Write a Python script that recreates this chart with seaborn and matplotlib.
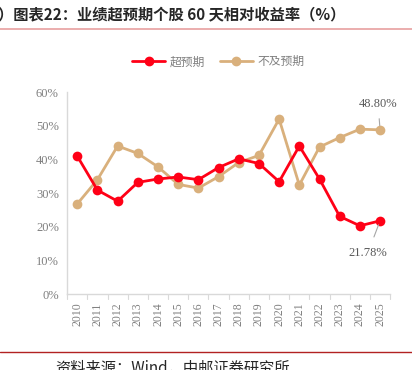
import pandas as pd
import seaborn as sns
import matplotlib.pyplot as plt
from matplotlib.lines import Line2D

years = list(range(2010, 2026))
beat = [41.0, 30.9, 27.6, 33.2, 34.2, 34.8, 34.0, 37.6, 40.2, 38.8,
        33.4, 44.0, 34.2, 23.1, 20.3, 21.78]
miss = [26.8, 34.0, 44.0, 41.8, 37.8, 32.6, 31.5, 34.9, 39.1, 41.2,
        52.0, 32.4, 43.7, 46.5, 49.0, 48.80]
series_names = ["超预期", "不及预期"]
yticks = [0, 10, 20, 30, 40, 50, 60]

df = pd.DataFrame({"year": years * 2,
                   "value": beat + miss,
                   "series": [series_names[0]] * 16 + [series_names[1]] * 16})

sns.set_style("white")
plt.rcParams['font.family'] = ['Noto Sans CJK SC', 'DejaVu Sans']

red = "#FF0016"
tan = "#D9B07C"
grey = "#808080"

fig = plt.figure(figsize=(4.12, 3.70), dpi=100)
ax = fig.add_axes([0.163, 0.205, 0.784, 0.546])

# draw tan first so red sits on top
sns.lineplot(data=df, x="year", y="value", hue="series",
             palette={series_names[0]: red, series_names[1]: tan},
             hue_order=[series_names[1], series_names[0]],
             marker="o", markersize=7, markeredgewidth=0, linewidth=2.0,
             legend=False, ax=ax)

ax.set_xlim(2009.5, 2025.5)
ax.set_ylim(0, 60)
ax.set_xticks(years)
ax.set_xticklabels([str(y) for y in years], rotation=90,
                   family="Liberation Serif", fontsize=8.5, color=grey)
ax.set_yticks(yticks)
ax.set_yticklabels([f"{v}%" for v in yticks],
                   family="Liberation Serif", fontsize=9, color=grey)
ax.set_xlabel("")
ax.set_ylabel("")
ax.tick_params(axis="x", length=0, pad=6)
ax.tick_params(axis="y", length=0, pad=6)
for x in range(2010, 2027):
    ax.plot([x - 0.5, x - 0.5], [0, -1.3], color="#d9d9d9", lw=0.8, clip_on=False)

for s in ["top", "right"]:
    ax.spines[s].set_visible(False)
for s in ["left", "bottom"]:
    ax.spines[s].set_color("#d9d9d9")
    ax.spines[s].set_linewidth(1.0)

# end labels
ax.annotate(f"{miss[-1]:.2f}%", xy=(2025, miss[-1]), xytext=(2024.9, 56.5),
            ha="center", va="center", fontsize=9, color="#595959",
            family="Liberation Serif",
            arrowprops=dict(arrowstyle="-", color="#a6a6a6", lw=0.8, shrinkA=4, shrinkB=3))
ax.annotate(f"{beat[-1]:.2f}%", xy=(2025, beat[-1]), xytext=(2024.4, 12.3),
            ha="center", va="center", fontsize=9, color="#595959",
            family="Liberation Serif",
            arrowprops=dict(arrowstyle="-", color="#a6a6a6", lw=0.8, shrinkA=5, shrinkB=3))

handles = [Line2D([], [], color=red, marker="o", markersize=6, lw=2.0),
           Line2D([], [], color=tan, marker="o", markersize=6, lw=2.0)]
fig.legend(handles, series_names, loc="center", bbox_to_anchor=(0.53, 0.833),
           ncol=2, frameon=False, fontsize=8.5, labelcolor="#7f7f7f",
           handlelength=2.8, columnspacing=1.2, handletextpad=0.4)

fig.text(-0.005, 0.962, "）图表22：业绩超预期个股 60 天相对收益率（%）",
         fontsize=11, fontweight="bold", ha="left", va="center")
fig.add_artist(Line2D([0, 1], [0.921, 0.921], color="#E8A0A0", lw=1.2))
fig.add_artist(Line2D([0, 1], [0.048, 0.048], color="#B22222", lw=1.0))
fig.text(0.133, 0.003, "资料来源：Wind，中邮证券研究所", fontsize=11,
         ha="left", va="center")

fig.savefig("out.png", dpi=100)
